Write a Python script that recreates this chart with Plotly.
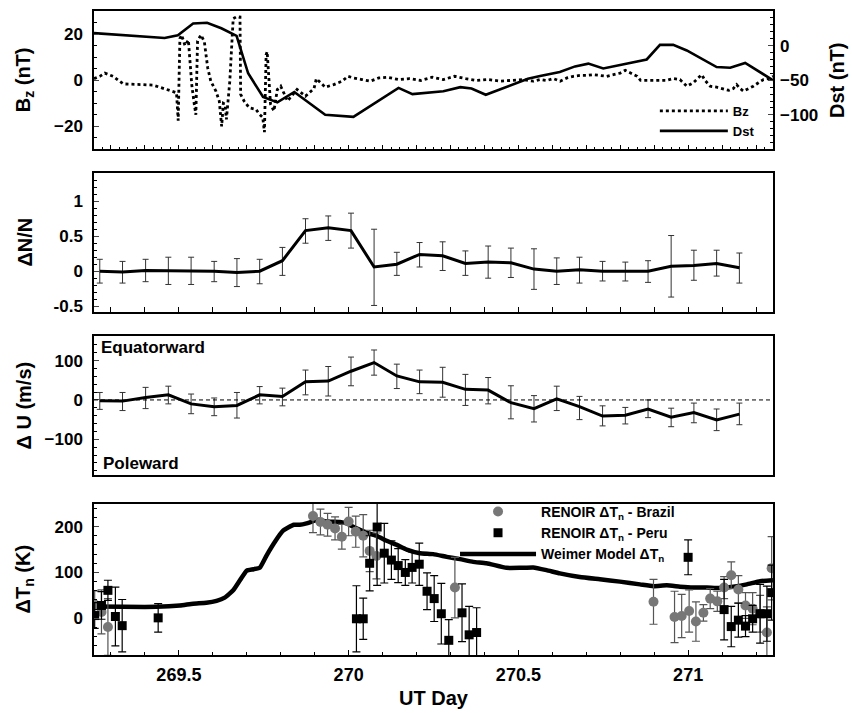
import plotly.graph_objects as go

# ---------------- Panel 1: IMF Bz and Dst ----------------
bz_day = [269.25, 269.267, 269.282, 269.306, 269.336, 269.365, 269.394, 269.424, 269.453, 269.478,
          269.493, 269.498, 269.503, 269.508, 269.518, 269.528, 269.538, 269.545, 269.550, 269.555,
          269.565, 269.575, 269.585, 269.594, 269.609, 269.619, 269.626, 269.631, 269.636, 269.640,
          269.650, 269.660, 269.670, 269.680, 269.682, 269.692, 269.707, 269.727, 269.737, 269.747,
          269.752, 269.757, 269.760, 269.770, 269.780, 269.790, 269.800, 269.820, 269.848, 269.873,
          269.898, 269.905, 269.931, 269.956, 269.981, 269.998, 270.014, 270.039, 270.064, 270.089,
          270.114, 270.147, 270.180, 270.213, 270.246, 270.279, 270.312, 270.345, 270.378, 270.412,
          270.445, 270.478, 270.511, 270.544, 270.564, 270.584, 270.603, 270.623, 270.643, 270.662,
          270.682, 270.702, 270.720, 270.740, 270.760, 270.780, 270.800, 270.815, 270.830, 270.850,
          270.860, 270.880, 270.900, 270.917, 270.936, 270.956, 270.976, 270.996, 271.015, 271.030,
          271.040, 271.050, 271.065, 271.084, 271.104, 271.120, 271.133, 271.143, 271.153, 271.163,
          271.178, 271.192, 271.207, 271.222, 271.236, 271.250]
bz_val = [0.7, 1.7, 3.1, 1.7, -1.6, -1.9, -1.9, -2.1, -3.6, -4.7,
          -5.4, -17.5, 18, 19.6, 15, 17.4, -2, -10, -15, 17,
          19.6, 16.7, 5.3, -0.4, -4.7, -9, -20, -10, -10.4, -17,
          -0.4, 26.7, 27.5, 27.4, -6.1, -9, -11.9, -12.6, -14.7, -16.1,
          -22.5, 11, 12.4, -10.4, -13.3, -4, -2.6, -9, -4, -6.9,
          -3.6, 0.7, -3, -1.9, -0.4, 1.7, 1, 0.3, -0.4, 1,
          1.3, 0.3, 0.7, -0.1, 1.3, 0.3, 1.7, 0.7, -0.1, 0.3,
          -0.4, -0.1, 0.3, -0.4, 0.3, -0.1, 0.7, -0.4, 1, 1.7,
          2.1, 2.1, 2.4, 2.1, 1.7, 2.4, 3.1, 4.3, 3.1, 1.7,
          -0.1, -0.1, -0.1, -0.1, -0.1, 0.7, 0.3, -2.6, -1.1, 1,
          2.4, -0.1, -2.6, -3, -3.6, -4.4, -3.6, -1.9, -3.6, -4.7,
          -3.6, -2.6, -1.1, 0.3, 0.7, 1.7]

dst_day = [269.25, 269.458, 269.497, 269.542, 269.583, 269.625, 269.670, 269.704, 269.748, 269.790,
           269.840, 269.931, 270.014, 270.147, 270.188, 270.279, 270.329, 270.362, 270.404, 270.528,
           270.564, 270.622, 270.667, 270.706, 270.750, 270.878, 270.917, 270.956, 270.996, 271.084,
           271.124, 271.168, 271.250]
dst_val = [18, 11, 15, 32, 33, 25, 14, -40, -74, -82,
           -67, -100, -103, -61, -70, -66, -60, -62, -71, -48,
           -44, -38, -30, -26, -33, -20, 1, 1, -7, -31,
           -32, -25, -50]

# ---------------- Panels 2 & 3: dN/N and dU ----------------
obs_day = [269.267, 269.334, 269.402, 269.469, 269.536, 269.604, 269.671, 269.738, 269.805, 269.873,
           269.940, 270.007, 270.075, 270.142, 270.209, 270.277, 270.344, 270.411, 270.478, 270.546,
           270.613, 270.680, 270.748, 270.815, 270.882, 270.950, 271.017, 271.084, 271.151]
dn_val = [0.00, -0.01, 0.01, 0.01, 0.01, 0.00, -0.02, 0.00, 0.15, 0.58,
          0.62, 0.58, 0.06, 0.10, 0.24, 0.22, 0.11, 0.13, 0.12, 0.03,
          0.00, 0.02, 0.00, 0.00, 0.00, 0.07, 0.08, 0.11, 0.05]
dn_err_hi = [0.17, 0.15, 0.16, 0.19, 0.19, 0.14, 0.20, 0.17, 0.19, 0.17,
             0.17, 0.25, 0.54, 0.17, 0.17, 0.20, 0.18, 0.23, 0.21, 0.29,
             0.19, 0.18, 0.14, 0.13, 0.15, 0.44, 0.22, 0.19, 0.21]
dn_err_lo = [0.17, 0.16, 0.16, 0.20, 0.20, 0.15, 0.20, 0.18, 0.21, 0.18,
             0.18, 0.25, 0.55, 0.16, 0.18, 0.21, 0.17, 0.23, 0.21, 0.29,
             0.19, 0.19, 0.14, 0.14, 0.16, 0.44, 0.21, 0.18, 0.22]

du_val = [-2, -3, 6, 13, -10, -17, -14, 13, 9, 46,
          48, 73, 95, 61, 46, 45, 27, 25, -7, -22,
          3, -17, -41, -39, -23, -44, -32, -51, -36]
du_err_hi = [21, 22, 26, 22, 25, 22, 33, 21, 21, 30,
             37, 36, 32, 30, 30, 38, 38, 32, 43, 33,
             32, 26, 26, 20, 23, 23, 24, 28, 28]
du_err_lo = [22, 24, 28, 23, 25, 23, 32, 23, 24, 33,
             38, 37, 32, 32, 30, 38, 41, 35, 41, 34,
             30, 33, 25, 22, 22, 24, 26, 27, 27]

# ---------------- Panel 4: neutral temperature ----------------
model_day = [269.25, 269.335, 269.434, 269.503, 269.542, 269.581, 269.611, 269.635, 269.660, 269.680,
             269.700, 269.720, 269.739, 269.759, 269.783, 269.807, 269.822, 269.839, 269.856, 269.876,
             269.910, 269.935, 269.974, 269.994, 270.023, 270.053, 270.082, 270.112, 270.142, 270.171,
             270.210, 270.249, 270.289, 270.328, 270.367, 270.406, 270.465, 270.505, 270.544, 270.583,
             270.622, 270.681, 270.740, 270.799, 270.858, 270.898, 270.937, 270.976, 271.015, 271.055,
             271.094, 271.133, 271.173, 271.212, 271.250]
model_val = [26, 25, 25, 28, 32, 34, 38, 45, 61, 83,
             104, 107, 111, 138, 167, 191, 198, 204, 204, 207,
             215, 211, 210, 207, 196, 187, 180, 169, 160, 150,
             142, 140, 134, 129, 123, 120, 110, 110, 111, 105,
             98, 90, 85, 80, 74, 70, 72, 69, 67, 67,
             66, 69, 74, 81, 83]

brazil_day = [269.252, 269.272, 269.291, 269.895, 269.917, 269.938, 269.960, 269.980, 270.000, 270.021,
              270.043, 270.062, 270.082, 270.313, 270.898, 270.960, 270.981, 271.003, 271.023, 271.045,
              271.065, 271.086, 271.106, 271.127, 271.148, 271.169, 271.190, 271.212, 271.232, 271.246]
brazil_val = [30, 14, -19, 223, 210, 204, 196, 178, 211, 189,
              180, 147, 136, 67, 36, 3, 5, 16, -7, 12,
              43, 37, 67, 94, 63, 28, 21, 10, -31, 109]
brazil_err = [30, 48, 62, 36, 28, 25, 25, 27, 31, 34,
              46, 45, 50, 66, 49, 56, 47, 46, 43, 18,
              22, 22, 24, 29, 30, 28, 35, 40, 56, 69]

peru_day = [269.252, 269.272, 269.291, 269.313, 269.333, 269.439, 270.023, 270.043, 270.062, 270.084,
            270.105, 270.126, 270.146, 270.167, 270.187, 270.208, 270.231, 270.252, 270.273, 270.295,
            270.334, 270.355, 270.377, 271.000, 271.106, 271.127, 271.148, 271.169, 271.190, 271.212,
            271.232, 271.246]
peru_val = [6, 28, 61, 4, -16, 1, -1, -1, 120, 199,
            142, 127, 115, 100, 111, 118, 59, 43, 10, -48,
            12, -36, -31, 133, 19, -18, -4, -17, -1, 10,
            10, 56]
peru_err = [28, 30, 22, 64, 57, 31, 72, 45, 60, 127,
            65, 42, 37, 28, 34, 46, 40, 50, 66, 45,
            63, 62, 54, 38, 66, 44, 37, 23, 29, 64,
            60, 60]

FONT = "Liberation Sans, Arial, Helvetica, sans-serif"
XR = [269.25, 271.25]

# vertical domains of the four panels (plot area from y=9 to y=655 px)
D1 = [0.785, 1.0]
D2 = [0.533, 0.748]
D3 = [0.280, 0.495]
D4 = [0.0, 0.235]

fig = go.Figure()

# Panel 1
fig.add_trace(go.Scatter(x=bz_day, y=bz_val, mode="lines", name="Bz",
                         line=dict(color="black", width=2.8, dash="dot"),
                         xaxis="x", yaxis="y", legend="legend2"))
fig.add_trace(go.Scatter(x=dst_day, y=dst_val, mode="lines", name="Dst",
                         line=dict(color="black", width=2.6),
                         xaxis="x", yaxis="y5", legend="legend2"))

# Panel 2
fig.add_trace(go.Scatter(x=obs_day, y=dn_val, mode="lines", showlegend=False,
                         line=dict(color="black", width=3),
                         error_y=dict(type="data", symmetric=False, array=dn_err_hi, arrayminus=dn_err_lo,
                                      color="#333333", thickness=1, width=3),
                         xaxis="x2", yaxis="y2"))

# Panel 3
fig.add_trace(go.Scatter(x=obs_day, y=du_val, mode="lines", showlegend=False,
                         line=dict(color="black", width=3),
                         error_y=dict(type="data", symmetric=False, array=du_err_hi, arrayminus=du_err_lo,
                                      color="#333333", thickness=1, width=3),
                         xaxis="x3", yaxis="y3"))

# Panel 4
fig.add_trace(go.Scatter(x=model_day, y=model_val, mode="lines", name="Weimer Model ΔT<sub>n</sub>",
                         line=dict(color="black", width=4.5, shape="spline", smoothing=0.4),
                         legendrank=3, xaxis="x4", yaxis="y4"))
fig.add_trace(go.Scatter(x=brazil_day, y=brazil_val, mode="markers", name="RENOIR ΔT<sub>n</sub> - Brazil",
                         marker=dict(symbol="circle", size=10, color="#777777"),
                         error_y=dict(type="data", array=brazil_err, color="#555555", thickness=1.2, width=4),
                         legendrank=1, xaxis="x4", yaxis="y4"))
fig.add_trace(go.Scatter(x=peru_day, y=peru_val, mode="markers", name="RENOIR ΔT<sub>n</sub> - Peru",
                         marker=dict(symbol="square", size=9, color="black"),
                         error_y=dict(type="data", array=peru_err, color="black", thickness=1.2, width=4),
                         legendrank=2, xaxis="x4", yaxis="y4"))

tickfont = dict(family=FONT, size=17, color="black", weight="bold")
axline = dict(showline=True, linecolor="black", linewidth=1.5, mirror=True, zeroline=False,
              showgrid=False)


def xax(anchor, labels=False, major=0.1, minor=0.025):
    d = dict(axline, range=XR, anchor=anchor, ticks="inside", ticklen=5, tickwidth=1,
             tickcolor="black", tick0=269.5, dtick=major, showticklabels=labels,
             minor=dict(ticks="inside", ticklen=3, dtick=minor, tick0=269.5, tickcolor="black", tickwidth=1))
    return d


layout = dict(
    width=852, height=713,
    margin=dict(l=94, r=79, t=9, b=58),
    paper_bgcolor="white", plot_bgcolor="white",
    font=dict(family=FONT, color="black"),
    xaxis=xax("y", major=0.1, minor=0.025),
    xaxis2=xax("y2", major=0.1, minor=0.1),
    xaxis3=dict(axline, range=XR, anchor="y3", ticks="", showticklabels=False),
    xaxis4=dict(xax("y4", labels=True, major=0.5, minor=0.1), tickfont=dict(tickfont, size=18),
                ticklabelstandoff=3),
    yaxis=dict(axline, domain=D1, range=[-30, 30], tickvals=[-20, 0, 20], ticks="inside", ticklen=5,
               tickfont=tickfont, ticklabelstandoff=6,
               minor=dict(ticks="inside", ticklen=3, dtick=5, tickcolor="black")),
    yaxis5=dict(showline=False, zeroline=False, showgrid=False, overlaying="y", side="right",
                anchor="x", range=[-150, 50], tickvals=[-100, -50, 0], ticks="inside", ticklen=5,
                tickfont=tickfont, ticklabelstandoff=6,
                minor=dict(ticks="inside", ticklen=3, dtick=10, tickcolor="black")),
    yaxis2=dict(axline, domain=D2, range=[-0.58, 1.4], tickvals=[-0.5, 0, 0.5, 1],
                ticktext=["-0.5", "0", "0.5", "1"], ticks="inside", ticklen=5,
                tickfont=tickfont, ticklabelstandoff=6, anchor="x2",
                minor=dict(ticks="inside", ticklen=3, dtick=0.1, tickcolor="black")),
    yaxis3=dict(axline, domain=D3, range=[-190, 162], tickvals=[-100, 0, 100], ticks="inside", ticklen=5,
                tickfont=tickfont, ticklabelstandoff=6, anchor="x3",
                minor=dict(ticks="inside", ticklen=3, dtick=20, tickcolor="black")),
    yaxis4=dict(axline, domain=D4, range=[-80, 250], tickvals=[0, 100, 200], ticks="inside", ticklen=5,
                tickfont=tickfont, ticklabelstandoff=6, anchor="x4",
                minor=dict(ticks="inside", ticklen=3, dtick=20, tickcolor="black")),
    legend=dict(x=0.5317, y=0.247, xanchor="left", yanchor="top", bgcolor="rgba(0,0,0,0)",
                font=dict(family=FONT, size=14, color="black", weight="bold"),
                itemwidth=76, tracegroupgap=0),
    legend2=dict(x=0.826, y=0.868, xanchor="left", yanchor="top", bgcolor="rgba(0,0,0,0)",
                 font=dict(family=FONT, size=13, color="black", weight="bold"),
                 itemwidth=68, tracegroupgap=0),
    showlegend=True,
)
fig.update_layout(**layout)

# dashed zero line in the wind panel
fig.add_shape(type="line", xref="x3 domain", yref="y3", x0=0, x1=1, y0=0, y1=0,
              line=dict(color="black", width=1, dash="4px,3px"))

title_font = dict(family=FONT, size=20, color="black", weight="bold")
lab_font = dict(family=FONT, size=17, color="black", weight="bold")
ytitles = [("B<sub>z</sub> (nT)", D1), ("ΔN/N", D2), ("Δ U (m/s)", D3), ("ΔT<sub>n</sub> (K)", D4)]
for txt, dom in ytitles:
    fig.add_annotation(text=txt, xref="paper", yref="paper", x=-0.103, y=(dom[0] + dom[1]) / 2,
                       textangle=-90, showarrow=False, font=title_font, xanchor="center", yanchor="middle")
fig.add_annotation(text="Dst (nT)", xref="paper", yref="paper", x=1.094, y=(D1[0] + D1[1]) / 2,
                   textangle=-90, showarrow=False, font=title_font, xanchor="center", yanchor="middle")
fig.add_annotation(text="UT Day", xref="paper", yref="paper", x=0.5, y=-0.066,
                   showarrow=False, font=title_font, xanchor="center", yanchor="middle")
fig.add_annotation(text="Equatorward", xref="x3 domain", yref="y3 domain", x=0.008, y=0.92,
                   showarrow=False, font=lab_font, xanchor="left", yanchor="middle")
fig.add_annotation(text="Poleward", xref="x3 domain", yref="y3 domain", x=0.01, y=0.08,
                   showarrow=False, font=lab_font, xanchor="left", yanchor="middle")

# remove the browser's default page margin so the 852x713 figure fills the window exactly
fig.write_html("out.html", config={"displayModeBar": False},
               post_script="document.body.style.margin='0';document.body.style.overflow='hidden';")
